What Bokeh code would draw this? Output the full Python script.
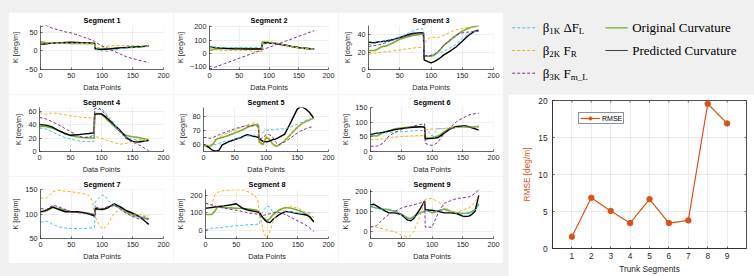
from bokeh.plotting import figure
from bokeh.models import Range1d, FixedTicker, Legend, LegendItem
from bokeh.layouts import row, column
from bokeh.embed import file_html
from bokeh.resources import INLINE
from bokeh.core.properties import value

# ---------------------------------------------------------------- data
X_POINTS = [0, 5, 10, 15, 20, 25, 30, 40, 50, 60, 65, 70, 80, 85, 88,
            89, 95, 100, 105, 110, 115, 120, 130, 140, 150, 155, 160, 165, 170, 176]

# Segment 1
S1_B1 = [21.5, 21.5, 21, 21, 20.5, 20.5, 20.5, 20, 20, 19.5, 19.5, 19.5, 19, 19, 19,
         4, 1.5, 0, -1, -1.5, 0, 2, 6, 7.5, 8.5, 9, 10, 10.5, 11, 11.5]
S1_B2 = [22, 22, 21.5, 21.5, 21, 21, 21, 21, 21, 21, 21, 21, 21, 21, 21,
         9, 9, 10, 11, 12.5, 13, 14, 14, 14, 14, 14, 14, 14, 14, 14]
S1_B3 = [65, 67, 68, 64, 60, 58, 56, 51, 48, 43, 40, 37, 31, 28, 25,
         24, 18, 13, 10, 6, 2, -1.5, -9, -16, -21, -23, -25, -27, -29, -31]
S1_ORIG = [24, 23, 21.5, 21, 21, 21, 21, 20.5, 20, 20, 20, 20, 20, 20, 20,
           5, 4.6, 4.6, 5, 6, 6.5, 7, 8.5, 9, 10, 10.5, 11, 11.5, 12.5, 14]
S1_PRED = [18, 18.5, 19, 20, 20.5, 21, 21.5, 22.5, 23, 22.5, 22.2, 22, 21, 20.5, 20,
           5, 4, 4, 4.5, 5, 5.5, 6.5, 8, 9, 10, 10.5, 11, 11.5, 12.5, 14]

# Segment 2
S2_B1 = [43, 43, 43, 43, 43, 43, 43, 43, 43, 43, 43, 43, 43, 43, 43,
         70, 72, 74, 75, 75, 72, 68, 58, 48, 41, 39, 37, 35, 33, 31]
S2_B2 = [37, 32, 26, 23, 22, 21.5, 21, 21, 22, 20, 18.5, 17, 14, 13, 13,
         80, 88, 91, 86, 80, 75, 70, 58, 48, 41, 39, 37, 35, 33, 31]
S2_B3 = [-122, -113, -105, -97, -88, -80, -72, -55, -38, -22, -13, -5, 11, 19, 25,
         27, 37, 45, 53, 62, 70, 78, 95, 112, 129, 137, 145, 154, 162, 172]
S2_ORIG = [20, 26, 33, 35, 35, 35.5, 36, 37, 37, 36, 35.5, 35, 34, 33.5, 33,
           87, 84, 80, 78, 76, 73, 70, 59, 48, 41, 39, 37, 35, 33, 30]
S2_PRED = [48, 45, 43, 41, 39, 37.5, 36, 34, 33, 32, 32, 32, 32, 32.5, 33,
           80, 78, 76, 75, 74, 70, 66, 59, 50, 43, 40, 38, 36, 34, 33]

# Segment 3
S3_B1 = [29, 29, 30, 31, 32, 32.8, 33.5, 35.5, 37.3, 40.5, 42.3, 44, 46.5, 47, 45.6,
         15.9, 16, 16.5, 17.5, 18.5, 19.5, 20.8, 24.5, 29, 35.7, 38, 40.6, 42.5, 44, 45]
S3_B2 = [17.5, 18, 18.8, 19.3, 19.8, 20.2, 20.5, 21.5, 22.5, 23.5, 24, 24.5, 25.2, 25.5, 25.8,
         30, 35, 37.3, 37, 36.4, 37.5, 39, 42.5, 45.6, 47, 47.7, 48.3, 48.7, 49, 49.6]
S3_B3 = [26.4, 27, 27.5, 28, 29, 30, 31.5, 34, 36.4, 38.5, 39.5, 40.5, 41.5, 42, 42.3,
         15.9, 15.9, 15.9, 17.5, 19.8, 23.5, 27.4, 34, 39.7, 42, 42.5, 43, 43.4, 43.8, 44]
S3_ORIG = [21.8, 21.8, 21.8, 23.5, 25.8, 26.6, 27.4, 31, 34.7, 37, 38, 39, 40, 40.4, 40.7,
           15.2, 15.2, 15.2, 16.5, 19, 23, 27.4, 33, 39, 44, 45.8, 47.3, 48.5, 49.3, 50]
S3_PRED = [31.4, 31, 30.7, 31.5, 32, 32.5, 33, 34.5, 36.7, 39, 40.2, 41.3, 42, 42.2, 42.3,
           11, 9, 7.6, 9, 11, 13.5, 16.5, 20.8, 25.8, 32.4, 35.8, 39, 41.7, 44, 45]

# Segment 4
S4_B1 = [35.2, 34.5, 33.9, 32, 29.6, 27.4, 25.2, 21.5, 18.7, 16.5, 15.8, 15.2, 15, 15.1, 15.2,
         60, 63, 64.3, 60, 53.5, 48, 42.6, 29.6, 20.9, 18, 17.7, 17.4, 17.1, 16.8, 16.5]
S4_B2 = [58.7, 57, 55.7, 57, 57.8, 57.5, 57, 55, 53.5, 52.5, 51.9, 51.3, 50.5, 50.2, 50,
         23, 21, 19.6, 18, 16.5, 15, 13.5, 10.9, 12.2, 15.2, 16, 16.5, 17.2, 17.8, 18.7]
S4_B3 = [51.3, 50, 49.1, 47, 44.8, 42.6, 40.4, 35, 29.6, 25, 22.5, 20.9, 22, 23.5, 25.2,
         64.3, 65.7, 62.2, 57, 51.3, 46, 40.4, 29.6, 18.7, 14.3, 12.2, 10, 7.5, 4.5, 1.3]
S4_ORIG = [37.4, 37.4, 37.4, 36.5, 35.2, 33.5, 31.7, 27.4, 23.9, 22.2, 21.5, 20.9, 20.4, 20.2, 20,
           57, 57, 55.7, 52, 47, 42.5, 38.3, 29.6, 23.9, 22.2, 21.5, 20.9, 19.8, 18.7, 17.4]
S4_PRED = [40.4, 40, 39.6, 38.5, 37, 34.5, 31.7, 27.4, 24.3, 25.2, 25.6, 26.1, 27, 27.7, 28.3,
           55.7, 56.5, 56.5, 53, 49, 45, 40.4, 31.7, 20.9, 15.2, 14.5, 14.3, 15, 16, 16.5]

# Segment 5
S5_B1 = [59, 59.2, 59.5, 60, 60.4, 61, 62, 63, 64, 65, 65.5, 66, 66.6, 67, 67.1,
         67.3, 68.5, 70.2, 70.5, 70.7, 70.9, 71, 71.2, 72.5, 74.3, 75.3, 76.3, 77.3, 78, 78.8]
S5_B2 = [60, 59.5, 59.5, 61, 64, 65.5, 66.5, 68.5, 70, 72, 73, 74, 75.3, 75, 74.5,
         63, 60.5, 66, 65, 61.5, 59, 59, 63, 67.5, 72.2, 74, 75.5, 76.5, 77.5, 78.8]
S5_B3 = [65.1, 65, 64.5, 65, 66.1, 67, 68, 69.5, 71.2, 72.5, 72.9, 73.2, 73.3, 73, 72.2,
         64, 65, 67.1, 67.1, 66, 62, 60, 62, 65, 68.2, 69.5, 70.5, 71.5, 72.2, 72.7]
S5_ORIG = [60, 59.5, 59, 60.4, 63.7, 64.5, 65.1, 66.5, 68.2, 70, 71.1, 72.2, 73.9, 74, 73.9,
           62, 60, 65.1, 64, 61, 59, 59.5, 63, 67.5, 72.2, 74, 75.5, 76.5, 77.5, 78.8]
S5_PRED = [60, 59, 57.6, 56, 55.5, 56.3, 60, 62, 63.7, 65.1, 66.2, 67.1, 66, 65.5, 65.1,
           64, 62.5, 62, 62.5, 63.5, 64, 65, 67.5, 76, 85, 86.5, 86, 84.5, 82.4, 78.8]

# Segment 6
S6_B1 = [54.7, 54.7, 54.7, 58, 62.6, 64, 65, 66.5, 67.6, 69, 69.8, 70.5, 71.5, 72, 72.6,
         77.5, 65, 52.7, 65, 77.5, 77.5, 77.5, 78, 81, 84.5, 84, 83.5, 83, 82.7, 82.5]
S6_B2 = [40.8, 41, 41.5, 42, 42.7, 44, 45.5, 48.5, 50.7, 52, 52.8, 53.5, 54.2, 54.5, 54.7,
         74.6, 75.5, 76.5, 77, 77.5, 78.5, 79, 80.5, 81.5, 82.5, 83, 83.5, 84, 84.2, 84.5]
S6_B3 = [17.9, 17.9, 17.9, 22, 27.8, 40, 52.7, 65, 74.6, 81.5, 84.5, 87.5, 91.5, 93, 94.4,
         27.8, 23, 20.9, 25, 32.8, 47, 62.6, 83, 102.4, 114, 119, 124.3, 127, 129, 130.2]
S6_ORIG = [54.7, 53.5, 52.7, 58, 64.6, 68, 71, 77.5, 80, 82.5, 83, 83.5, 84.5, 84, 82.5,
           45.7, 46.5, 47.7, 50, 52.7, 60, 67.6, 80.5, 85.5, 84.5, 83.5, 82.5, 83.5, 84.5, 85.5]
S6_PRED = [57.7, 60, 62.6, 63.5, 64.6, 67, 70, 74.6, 78, 80.5, 81.5, 82.5, 84.5, 84, 82.5,
           42.7, 44, 44.7, 45.5, 47.7, 55, 62.6, 77.5, 84.5, 87.5, 87, 84.5, 81, 77.5, 72.6]

# Segment 7
S7_B1 = [83.7, 84.5, 85.6, 83, 79.1, 76.5, 73.9, 71.5, 70.6, 70.6, 70.6, 70.6, 71.5, 72, 72.5,
         124.8, 134, 139.9, 138, 128.1, 124, 120.3, 108.5, 101, 95.4, 94.5, 94, 94.1, 96, 98.7]
S7_B2 = [133.3, 133.3, 133.3, 140, 146.4, 148.5, 149, 147.5, 146.4, 144.5, 143.5, 142.5, 137.9, 125, 100,
         95, 78, 70.6, 72, 79.1, 92, 102, 109.8, 104, 98.7, 98.5, 98.5, 98.7, 96, 92.2]
S7_B3 = [111.8, 111, 109.8, 114, 118.3, 117, 115, 110, 105.2, 103.5, 102.8, 102, 100, 99.5, 98.7,
         115, 113, 111.8, 113.5, 115.5, 117.5, 118.3, 111, 102, 95, 93, 90.2, 90, 90, 90.2]
S7_ORIG = [105.2, 106, 107.2, 110.5, 113.7, 113, 111.8, 108, 105.2, 104, 103.6, 103.3, 101.5, 100.5, 100,
           109.8, 109.8, 109.8, 112, 115, 117, 118.3, 113.7, 105.2, 98.7, 97, 95.4, 93.5, 92, 90.2]
S7_PRED = [105.2, 106.5, 108.5, 112, 115, 112, 109.8, 105.2, 105.2, 105.2, 104.3, 103.3, 100, 98, 95.4,
           111.8, 110.5, 109.8, 111, 113.7, 118, 121.6, 115, 107.2, 102, 99, 95.4, 91, 85.6, 79.1]

# Segment 8
S8_B1 = [5, 9, 13, 14, 15, 17, 19, 23, 27, 30, 31.5, 33, 35, 36, 36,
         82, 118, 140, 133, 100, 108, 115, 109, 104, 100, 100, 100, 100, 102, 104]
S8_B2 = [158, 152, 145, 200, 218, 223, 227, 230, 232, 231, 225, 218, 200, 173, 100,
         80, -20, -42, 0, 50, 91, 110, 127, 136, 127, 118, 109, 100, 91, 73]
S8_B3 = [155, 150, 145, 140, 136, 131, 127, 121, 115, 108, 104, 100, 95, 93, 91,
         82, 87, 91, 96, 100, 102, 104, 91, 73, 55, 46, 37, 27, 12, -5]
S8_ORIG = [91, 91, 91, 109, 136, 133, 131, 129, 127, 125, 123.5, 122, 118, 112, 100,
           82, 70, 55, 70, 91, 105, 118, 131, 127, 115, 110, 100, 90, 73, 49]
S8_PRED = [127, 129, 131, 133.5, 136, 138, 140, 145, 152, 127, 121, 115, 109, 105, 100,
           95, 65, 49, 45, 64, 78, 91, 109, 104, 96, 93, 91, 87, 78, 49]

# Segment 9
S9_B1 = [122, 119, 115, 112, 110, 108, 106, 98, 82, 66, 60, 70, 90, 96, 100,
         105, 98, 92, 97, 102, 106, 108, 99, 91, 88, 88, 91, 97, 106, 130]
S9_B2 = [25, 23, 21, 17, 13, 9, 5, -3, -18, -27, -22, 0, 70, 124, 150,
         159, 163, 163, 155, 148, 136, 124, 100, 92, 108, 112, 116, 130, 148, 171]
S9_B3 = [21, 25, 29, 45, 60, 72, 84, 100, 116, 125, 128, 132, 140, 145, 148,
         21, 21, 21, 55, 92, 118, 140, 152, 163, 167, 169, 171, 178, 190, 206]
S9_ORIG = [124, 120, 116, 113, 111, 110, 108, 100, 84, 68, 63, 73, 92, 97, 100,
           108, 100, 92, 96, 100, 106, 111, 100, 92, 89, 90, 92, 98, 108, 137]
S9_PRED = [132, 135, 127, 117, 108, 99, 92, 92, 84, 57, 52, 63, 108, 135, 152,
           108, 106, 105, 102, 100, 96, 92, 92, 89, 76, 74, 76, 85, 100, 179]

SEG_YLIM = [(-50, 68), (-124, 211), (0, 50.5), (0, 66), (55.3, 86.1),
            (0, 150), (50, 151), (-45, 233), (-35, 208)]
SEG_YTICKS = [[-50, 0, 50], [-100, 0, 100, 200], [0, 20, 40], [0, 20, 40, 60],
              [60, 70, 80], [0, 50, 100, 150], [50, 100, 150], [0, 100, 200], [0, 100, 200]]
X_TICKS = [0, 50, 100, 150, 200]

SEGMENTS = [
    (S1_B1, S1_B2, S1_B3, S1_ORIG, S1_PRED),
    (S2_B1, S2_B2, S2_B3, S2_ORIG, S2_PRED),
    (S3_B1, S3_B2, S3_B3, S3_ORIG, S3_PRED),
    (S4_B1, S4_B2, S4_B3, S4_ORIG, S4_PRED),
    (S5_B1, S5_B2, S5_B3, S5_ORIG, S5_PRED),
    (S6_B1, S6_B2, S6_B3, S6_ORIG, S6_PRED),
    (S7_B1, S7_B2, S7_B3, S7_ORIG, S7_PRED),
    (S8_B1, S8_B2, S8_B3, S8_ORIG, S8_PRED),
    (S9_B1, S9_B2, S9_B3, S9_ORIG, S9_PRED),
]

TRUNK_SEGMENTS = [1, 2, 3, 4, 5, 6, 7, 8, 9]
RMSE = [1.6, 6.85, 5.08, 3.44, 6.67, 3.44, 3.8, 19.56, 16.9]
RMSE_YTICKS = [0, 5, 10, 15, 20]

# ---------------------------------------------------------------- styling
PAGE_BG = "#f0f0f0"
AXIS_COLOR = "#262626"
GRID_COLOR = "#e6e6e6"
SANS = "Liberation Sans"
SERIF = "Liberation Serif"

C_B1 = "#4DBEEE"
C_B2 = "#EDB120"
C_B3 = "#7E2F8E"
C_ORIG = "#77AC30"
C_PRED = "#000000"
C_RMSE = "#D95319"


def style_axis(ax, size):
    ax.axis_line_color = AXIS_COLOR
    ax.axis_line_width = 0.7
    ax.major_tick_in = 2
    ax.major_tick_out = 0
    ax.major_tick_line_color = AXIS_COLOR
    ax.major_tick_line_width = 0.7
    ax.minor_tick_line_color = None
    ax.major_label_text_font = SANS
    ax.major_label_text_font_size = size
    ax.major_label_text_color = AXIS_COLOR
    ax.axis_label_text_font = SANS
    ax.axis_label_text_font_size = size
    ax.axis_label_text_font_style = "normal"
    ax.axis_label_text_color = AXIS_COLOR


def segment_plot(k):
    col, rw = k % 3, k // 3
    p = figure(width=165, height=87 if rw == 2 else 82,
               x_range=Range1d(0, 200), y_range=Range1d(*SEG_YLIM[k]),
               output_backend="svg", toolbar_location=None,
               min_border_left=31 if col == 0 else 30, min_border_right=10,
               min_border_top=13, min_border_bottom=23 if rw == 2 else 18,
               background_fill_color="white", border_fill_color="white",
               outline_line_color=None)
    p.title.text = f"Segment {k + 1}"
    p.title.align = "center"
    p.title.text_font = SANS
    p.title.text_font_size = "7.3px"
    p.title.text_font_style = "bold"
    p.title.text_color = "#000000"
    p.title.standoff = 2

    p.xaxis.ticker = FixedTicker(ticks=X_TICKS)
    p.yaxis.ticker = FixedTicker(ticks=SEG_YTICKS[k])
    p.xaxis.axis_label = "Data Points"
    p.yaxis.axis_label = "K [deg/m]"
    for ax in (p.xaxis[0], p.yaxis[0]):
        style_axis(ax, "7.3px")
    p.xaxis.major_label_standoff = 3
    p.xaxis.axis_label_standoff = 2
    p.yaxis.major_label_standoff = 3
    p.yaxis.axis_label_standoff = 2
    p.grid.grid_line_color = GRID_COLOR
    p.grid.grid_line_width = 0.7

    b1, b2, b3, orig, pred = SEGMENTS[k]
    p.line(X_POINTS, orig, line_color=C_ORIG, line_width=1.6)
    p.line(X_POINTS, pred, line_color=C_PRED, line_width=1.4)
    p.line(X_POINTS, b1, line_color=C_B1, line_width=1, line_dash="3 2")
    p.line(X_POINTS, b2, line_color=C_B2, line_width=1, line_dash="3 2")
    p.line(X_POINTS, b3, line_color=C_B3, line_width=1, line_dash="3 2")
    return p


seg_figs = [segment_plot(k) for k in range(9)]

# ---------------------------------------------------------------- legend panel (pixel coordinates)
lg = figure(width=251, height=94, x_range=Range1d(0, 251), y_range=Range1d(94, 0),
            title=None, x_axis_type=None, y_axis_type=None,
            min_border=0, min_border_left=0, min_border_right=0,
            min_border_top=0, min_border_bottom=0, frame_align=False,
            outline_line_color=None, background_fill_color=PAGE_BG,
            border_fill_color=PAGE_BG, toolbar_location=None, output_backend="svg")

ROW_Y = [27.3, 50.0, 72.7]
SUB_DY = 3.6
for y, c in zip(ROW_Y, [C_B1, C_B2, C_B3]):
    lg.line([8.7, 33.0], [y, y], line_color=c, line_width=1, line_dash="3 2")
lg.line([102.0, 124.3], [ROW_Y[0], ROW_Y[0]], line_color=C_ORIG, line_width=1.2)
lg.line([102.0, 124.3], [ROW_Y[1], ROW_Y[1]], line_color="#3b4350", line_width=1.2)

main_kw = dict(text_font=value(SERIF), text_font_size="13px", text_baseline="middle",
               text_align="left", text_color="#000000")
sub_kw = dict(text_font=value(SERIF), text_font_size="9px", text_baseline="middle",
              text_align="left", text_color="#000000")
lg.text(x=[39.3] * 3, y=ROW_Y, text=["\u03b2"] * 3, **main_kw)
lg.text(x=[45.8] * 3, y=[v + SUB_DY for v in ROW_Y], text=["1K", "2K", "3K"], **sub_kw)
lg.text(x=[60.0, 60.0, 60.0], y=ROW_Y, text=["\u0394F", "F", "F"], **main_kw)
lg.text(x=[75.2, 67.2, 67.2], y=[v + SUB_DY for v in ROW_Y], text=["L", "R", "m_L"], **sub_kw)
lg.text(x=[128.7, 128.7], y=ROW_Y[:2], text=["Original Curvature", "Predicted Curvature"], **main_kw)

# ---------------------------------------------------------------- RMSE panel
rm = figure(width=246, height=182, x_range=Range1d(0, 10), y_range=Range1d(0, 20),
            title=None, output_backend="svg", toolbar_location=None,
            min_border_left=44, min_border_right=8, min_border_top=6, min_border_bottom=25,
            frame_align=False,
            background_fill_color="white", border_fill_color="white",
            outline_line_color=AXIS_COLOR, outline_line_width=0.8)
rm.margin = (0, 0, 0, 5)
rm.xaxis.ticker = FixedTicker(ticks=TRUNK_SEGMENTS)
rm.yaxis.ticker = FixedTicker(ticks=RMSE_YTICKS)
rm.xaxis.axis_label = "Trunk Segments"
rm.yaxis.axis_label = "RMSE [deg/m]"
for ax in (rm.xaxis[0], rm.yaxis[0]):
    style_axis(ax, "8.3px")
rm.yaxis.axis_label_text_color = C_RMSE
rm.xaxis.major_label_standoff = 4
rm.xaxis.axis_label_standoff = 2
rm.yaxis.major_label_standoff = 5
rm.yaxis.axis_label_standoff = 3
rm.grid.grid_line_color = GRID_COLOR
rm.grid.grid_line_width = 0.8

# mirrored inward tick marks along the top and right edges of the box
rm.segment(x0=TRUNK_SEGMENTS, x1=TRUNK_SEGMENTS, y0=[20] * 9, y1=[19.73] * 9,
           line_color=AXIS_COLOR, line_width=0.7)
rm.segment(x0=[10] * 5, x1=[9.9] * 5, y0=RMSE_YTICKS, y1=RMSE_YTICKS,
           line_color=AXIS_COLOR, line_width=0.7)

rl = rm.line(TRUNK_SEGMENTS, RMSE, line_color=C_RMSE, line_width=1.2)
rs = rm.scatter(TRUNK_SEGMENTS, RMSE, size=5.5, fill_color=C_RMSE, line_color=C_RMSE)
legend = Legend(items=[LegendItem(label="RMSE", renderers=[rl, rs])],
                location=(26, 124), orientation="vertical",
                label_text_font=SANS, label_text_font_size="7px", label_text_color="#000000",
                glyph_width=20, glyph_height=8, label_height=8, label_standoff=2,
                padding=1, spacing=0, margin=0,
                border_line_color=AXIS_COLOR, border_line_width=0.8,
                background_fill_color="white", background_fill_alpha=1)
rm.add_layout(legend)

# ---------------------------------------------------------------- layout
left_panel = column(row(*seg_figs[0:3]), row(*seg_figs[3:6]), row(*seg_figs[6:9]),
                    margin=(12, 0, 0, 8))
right_side = column(lg, rm)
root = row(left_panel, right_side, styles={"background-color": PAGE_BG})

open("out.html", "w").write(file_html(root, INLINE))
